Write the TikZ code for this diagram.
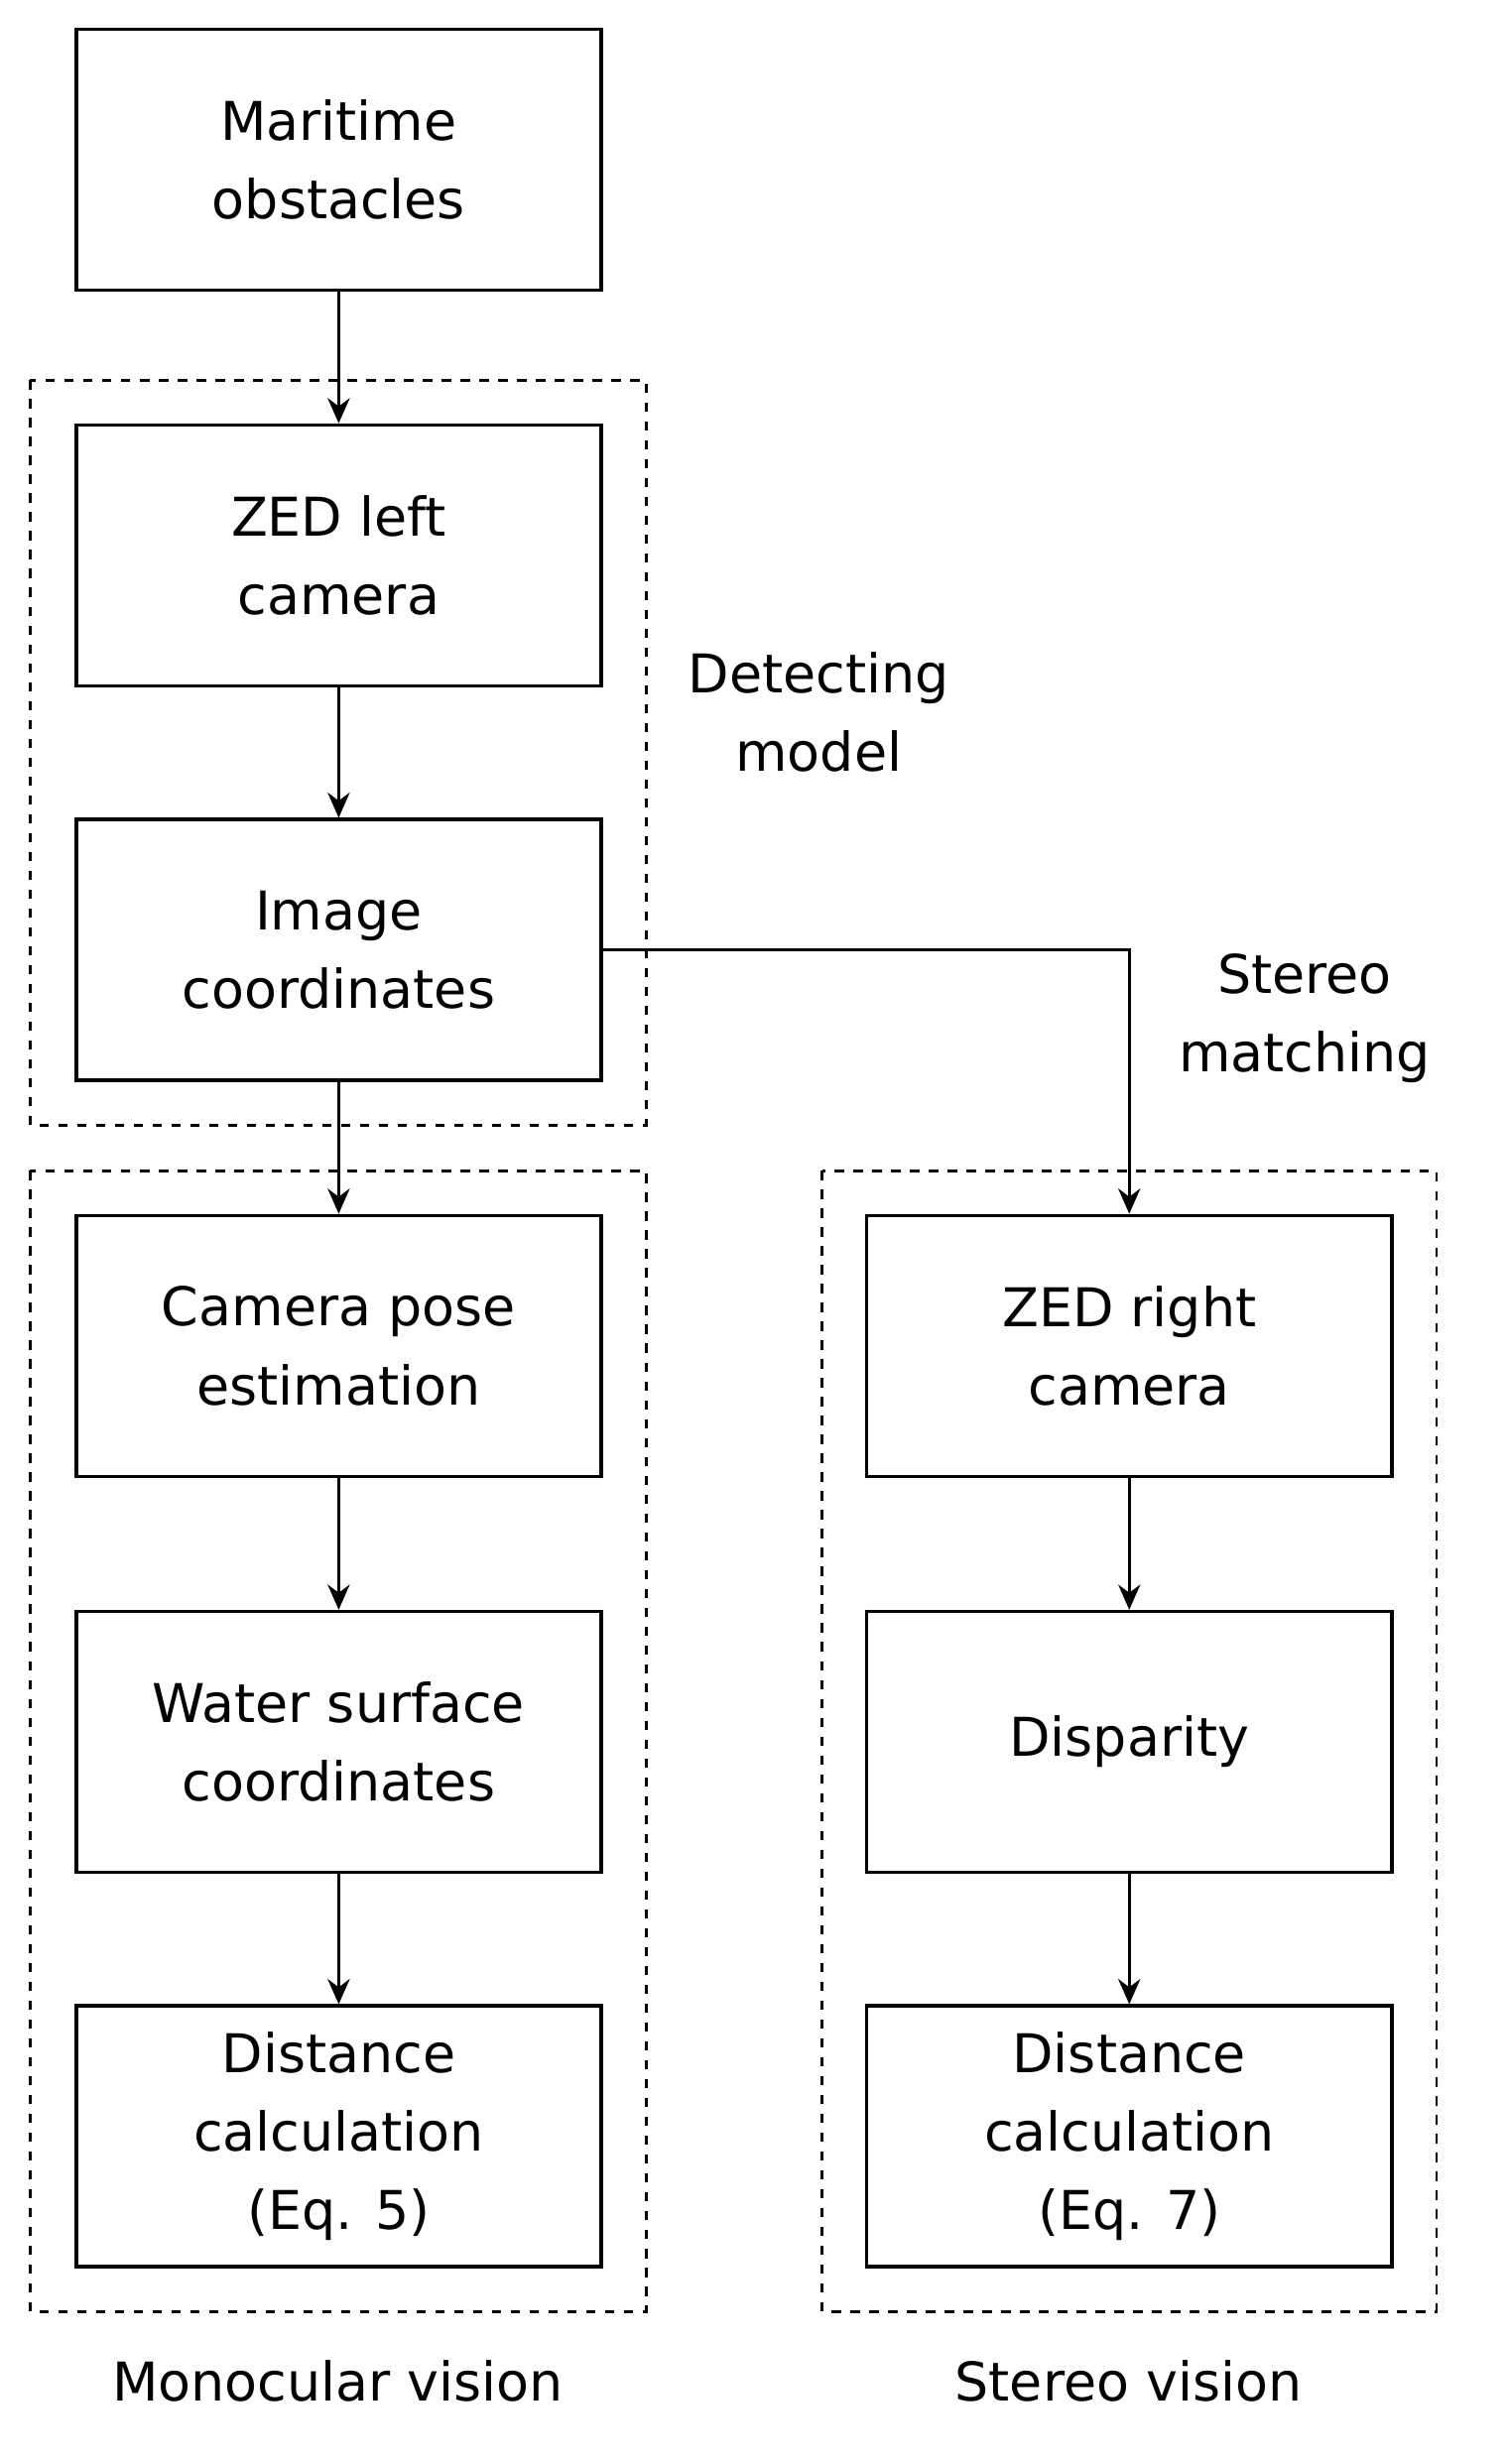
\documentclass[tikz,border=0pt]{standalone}
\usepackage{fontspec}
\setmainfont{DejaVu Sans}
\usetikzlibrary{arrows.meta}
\begin{document}
\begin{tikzpicture}[x=0.5pt,y=-0.5pt,line width=1.1pt,
    box/.style={draw,minimum width=167pt,minimum height=83pt,align=center,
      font=\fontsize{17}{25}\selectfont},
    grp/.style={draw,dash pattern=on 3pt off 3pt,line width=0.9pt},
    lbl/.style={align=center,font=\fontsize{17}{25}\selectfont},
    arr/.style={-{Stealth[length=8pt,width=7pt]}}]

      \useasboundingbox (0,0) rectangle (960,1568);

      \draw[grp] (19,242) rectangle (411,716);
      \draw[grp] (19,745) rectangle (411,1471);
      \draw[grp] (523,745) rectangle (914,1471);

      \path (215.5,101.5)  node[box] (obst)  {Maritime\\obstacles};
      \path (215.5,353.5)  node[box] (left)  {ZED left\\camera};
      \path (215.5,604.5)  node[box] (img)   {Image\\coordinates};
      \path (215.5,856.5)  node[box] (pose)  {Camera pose\\estimation};
      \path (215.5,1108.5) node[box] (water) {Water surface\\coordinates};
      \path (215.5,1359.5) node[box] (mdist) {Distance\\calculation\\(Eq. 5)};
      \path (718.5,856.5)  node[box] (right) {ZED right\\camera};
      \path (718.5,1108.5) node[box] (disp)  {Disparity};
      \path (718.5,1359.5) node[box] (sdist) {Distance\\calculation\\(Eq. 7)};

      \path (521,453)  node[lbl] (detect) {Detecting\\model};
      \path (830,648)  node[lbl] (match)  {Stereo\\matching};
      \path (215,1515) node[lbl] (mono)   {Monocular vision};
      \path (718,1515) node[lbl] (stereo) {Stereo vision};

      \draw[arr] (obst)  -- (left);
      \draw[arr] (left)  -- (img);
      \draw[arr] (img)   -- (pose);
      \draw[arr] (pose)  -- (water);
      \draw[arr] (water) -- (mdist);
      \draw[arr] (right) -- (disp);
      \draw[arr] (disp)  -- (sdist);
      \draw[arr] (img.east) -| (right.north);

    \end{tikzpicture}
\end{document}
